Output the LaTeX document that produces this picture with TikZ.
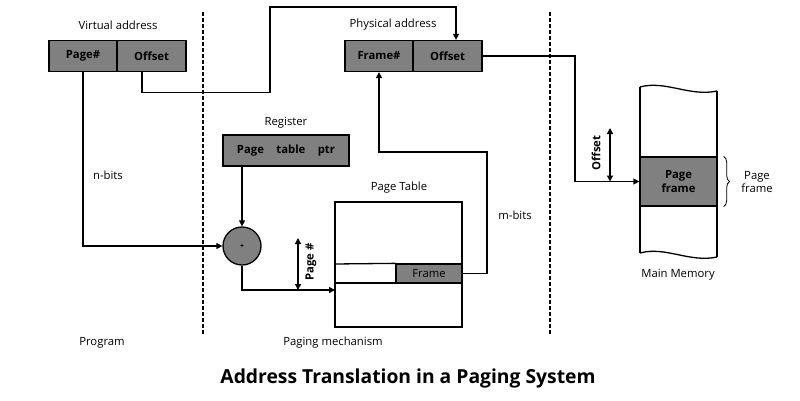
\documentclass[tikz,border=0pt]{standalone}
\usepackage{fontspec}
\setmainfont{Open Sans}
\usetikzlibrary{arrows.meta,decorations.pathreplacing,calc}
\definecolor{boxgray}{HTML}{808080}
\begin{document}
\begin{tikzpicture}[x=1pt,y=-1pt,
  ln/.style={line width=1.3pt},
  arr/.style={line width=1.3pt,-{Triangle[length=6pt,width=6pt]}},
  dbl/.style={line width=1.3pt,{Triangle[length=6pt,width=6pt]}-{Triangle[length=6pt,width=6pt]}},
  box/.style={draw,line width=1.3pt,fill=boxgray,minimum height=31pt,inner sep=0pt,font=\bfseries\fontsize{11.3}{13}\selectfont},
  lab/.style={font=\fontsize{11.3}{13.5}\selectfont,inner sep=0pt},
  blab/.style={font=\bfseries\fontsize{11.3}{13}\selectfont,inner sep=0pt},
  sep/.style={line width=1.5pt,dash pattern=on 4pt off 2pt}]
\useasboundingbox (0,0) rectangle (800,400);
% separators
\draw[sep] (203,12) -- (203,335);
\draw[sep] (550,12) -- (550,335);
% virtual address
\node[lab] (vlab) at (118,25) {Virtual address};
\node[box,minimum width=68pt] (vpage) at (83,56) {Page\#};
\node[box,minimum width=69pt] (voff) at (151.5,56) {Offset};
% physical address
\node[lab] (plab) at (393,25) {Physical address};
\node[box,minimum width=68pt] (pframe) at (379,56) {Frame\#};
\node[box,minimum width=69pt] (poff) at (447.5,56) {Offset};
% register
\node[lab] (rlab) at (286,123) {Register};
\node[box,minimum width=126pt] (reg) at (286,150.5) {Page\hspace{1.1em}table\hspace{1.1em}ptr};
% adder
\node[draw,circle,line width=1.3pt,fill=boxgray,minimum size=38pt,inner sep=0pt,font=\bfseries\fontsize{7}{8}\selectfont] (plus) at (242,246) {+};
% page table
\node[lab] (ptlab) at (399,188) {Page Table};
\node[draw,line width=1.3pt,minimum width=127pt,minimum height=125pt,inner sep=0pt] (pt) at (398.5,264.5) {};
\node[draw,line width=1.3pt,fill=boxgray,minimum width=66pt,minimum height=19pt,inner sep=0pt,font=\fontsize{11.3}{13}\selectfont] (frame) at (429,273.5) {Frame};
\draw[ln] (pt.west |- 0,264) -- (frame.north west);
\draw[line width=2pt] (pt.west |- 0,283) -- (pt.east |- 0,283);
% main memory
\node[draw,line width=1.3pt,fill=boxgray,minimum width=77pt,minimum height=49pt,inner sep=0pt,font=\bfseries\fontsize{11.3}{14}\selectfont,align=center] (pf) at (678.5,181.5) {Page\\frame};
\draw[ln] (640,87) .. controls (665,80) and (690,97) .. (717,91);
\draw[ln] (640,253) .. controls (665,246) and (690,263) .. (717,257);
\draw[ln] (640,87) -- (640,253);
\draw[ln] (717,91) -- (717,257);
\node[lab] (mmlab) at (678,275) {Main Memory};
\draw[line width=0.8pt,decorate,decoration={brace,amplitude=6pt}] (pf.north east)++(6,0) coordinate (b1) -- ($(pf.south east)+(6,0)$) coordinate (b2);
\node[lab,align=center] (pflab) at (757,182) {Page\\frame};
% labels
\node[lab] (nbits) at (108,175) {n-bits};
\node[lab] (mbits) at (515,215) {m-bits};
\node[lab] (prog) at (102,343) {Program};
\node[lab] (pmech) at (333,343) {Paging mechanism};
\node[font=\bfseries\fontsize{19.3}{23}\selectfont] (title) at (408,378) {Address Translation in a Paging System};
% connectors
\draw[arr] (vpage.south) |- (plus.west);
\draw[arr] ([xshift=-9.5pt]voff.south) -- ++(0,20) -| (270,7) -| ([xshift=8.5pt]poff.north);
\coordinate (mj) at (575,181.5);
\draw[arr] (poff.east) -| (mj) -- (pf.west);
\draw[arr] (frame.east) -| (487,152) -| (pframe.south);
\draw[arr] (plus.north |- reg.south) -- (plus.north);
\coordinate (ptin) at (335,290);
\draw[arr] (plus.south) |- (ptin);
\draw[dbl] (298,238) -- (298,290);
\node[blab,rotate=90] (pglab) at (311,262) {Page \#};
\draw[dbl] (610,128) -- (610,181.5);
\node[blab,rotate=90] (offlab) at (596,153) {Offset};
\end{tikzpicture}
\end{document}
